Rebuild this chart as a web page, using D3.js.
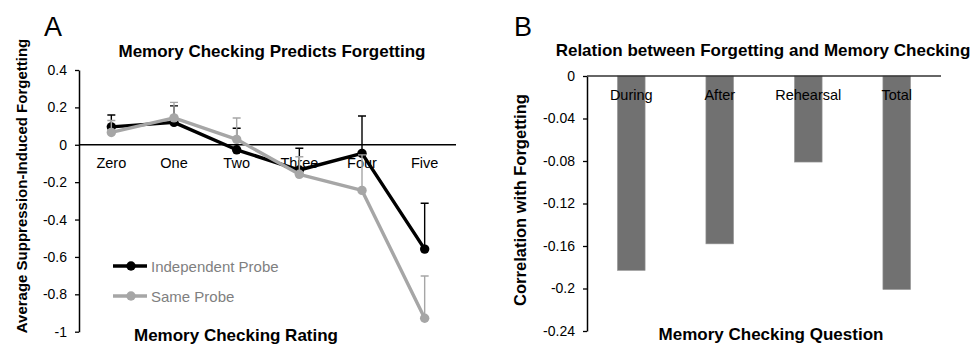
<!DOCTYPE html>
<html>
<head>
<meta charset="utf-8">
<script src="https://cdn.jsdelivr.net/npm/d3@7"></script>
<style>
  body { margin: 0; background: #fff; }
  text { font-family: 'Liberation Sans', Arial, sans-serif; }
</style>
</head>
<body>
<div id="chart"></div>
<script>
// panel A
const ratings = ['Zero', 'One', 'Two', 'Three', 'Four', 'Five'];
const independentProbe = [0.096, 0.12, -0.027, -0.135, -0.046, -0.558];
const independentErr = [0.063, 0.088, 0.115, 0.116, 0.2, 0.245];
const sameProbe = [0.066, 0.144, 0.029, -0.158, -0.244, -0.928];
const sameErr = [0.064, 0.083, 0.114, 0.094, 0.19, 0.226];
const ticksA = [0.4, 0.2, 0, -0.2, -0.4, -0.6, -0.8, -1];

// panel B
const questions = ['During', 'After', 'Rehearsal', 'Total'];
const correlations = [-0.183, -0.158, -0.081, -0.201];
const ticksB = [0, -0.04, -0.08, -0.12, -0.16, -0.2, -0.24];

const width = 977, height = 345;
const fmt = d => String(d).replace('\u2212', '-');

const svg = d3.select('#chart').append('svg')
  .attr('width', width)
  .attr('height', height);

// ---------- A ----------
const xA = d3.scaleBand().domain(ratings).range([80, 456]).padding(0);
const yA = d3.scaleLinear().domain([-1, 0.4]).range([331.7, 70]);
const cx = d => xA(d) + xA.bandwidth() / 2;

svg.append('text').attr('x', 44).attr('y', 36).attr('font-size', 27).text('A');
svg.append('text').attr('x', 272).attr('y', 57).attr('text-anchor', 'middle')
  .attr('font-size', 17).attr('font-weight', 'bold').text('Memory Checking Predicts Forgetting');

const axA = svg.append('g')
  .attr('transform', 'translate(79,0)')
  .call(d3.axisLeft(yA).tickValues(ticksA).tickFormat(fmt).tickSize(4).tickSizeOuter(0).tickPadding(8));
axA.select('.domain').attr('stroke-width', 1.5);
axA.selectAll('.tick line').attr('stroke-width', 1.3);
axA.selectAll('text').attr('font-size', 14).attr('fill', '#000');

const zeroA = svg.append('g')
  .attr('transform', 'translate(0,' + yA(0) + ')')
  .call(d3.axisBottom(xA).tickSize(0).tickPadding(13));
zeroA.select('.domain').attr('d', 'M79,0H456').attr('stroke-width', 1.3);
zeroA.selectAll('text').attr('font-size', 14.5).attr('fill', '#000');

svg.append('text')
  .attr('transform', 'translate(27,186) rotate(-90)')
  .attr('text-anchor', 'middle').attr('font-size', 15).attr('font-weight', 'bold')
  .text('Average Suppression-Induced Forgetting');
svg.append('text').attr('x', 236).attr('y', 341).attr('text-anchor', 'middle')
  .attr('font-size', 17).attr('font-weight', 'bold').text('Memory Checking Rating');

const series = [
  {name: 'Independent Probe', values: independentProbe, err: independentErr, color: '#000', errColor: '#000'},
  {name: 'Same Probe', values: sameProbe, err: sameErr, color: '#a6a6a6', errColor: '#a6a6a6'}
];

const line = d3.line().x((d, i) => cx(ratings[i])).y(d => yA(d));

series.forEach(s => {
  const g = svg.append('g');
  g.selectAll('.err').data(s.values).enter().append('path')
    .attr('d', (d, i) => {
      const x = cx(ratings[i]), y0 = yA(d), y1 = yA(d + s.err[i]);
      return 'M' + x + ',' + y0 + 'V' + y1 + 'M' + (x - 4) + ',' + y1 + 'H' + (x + 4);
    })
    .attr('fill', 'none').attr('stroke', s.errColor).attr('stroke-width', 1.4);
  g.append('path').datum(s.values).attr('d', line)
    .attr('fill', 'none').attr('stroke', s.color).attr('stroke-width', 3.4).attr('stroke-linejoin', 'round');
  g.selectAll('circle').data(s.values).enter().append('circle')
    .attr('cx', (d, i) => cx(ratings[i])).attr('cy', d => yA(d)).attr('r', 4.7).attr('fill', s.color);
});

// legend
const leg = svg.append('g');
series.forEach((s, i) => {
  const y = 266 + i * 30;
  leg.append('line').attr('x1', 113).attr('x2', 147).attr('y1', y).attr('y2', y)
    .attr('stroke', s.color).attr('stroke-width', 3.4);
  leg.append('circle').attr('cx', 131).attr('cy', y).attr('r', 4.7).attr('fill', s.color);
  leg.append('text').attr('x', 151).attr('y', y + 6).attr('font-size', 15)
    .attr('fill', '#7f7f7f').text(s.name);
});

// ---------- B ----------
const xB = d3.scaleBand().domain(questions).range([587, 941]).padding(0);
const yB = d3.scaleLinear().domain([-0.24, 0]).range([331, 76]);
const barW = xB.bandwidth() * 0.313;

svg.append('text').attr('x', 514).attr('y', 36).attr('font-size', 27).text('B');
svg.append('text').attr('x', 763).attr('y', 56).attr('text-anchor', 'middle')
  .attr('font-size', 17).attr('font-weight', 'bold').text('Relation between Forgetting and Memory Checking');

svg.selectAll('.bar').data(correlations).enter().append('rect')
  .attr('class', 'bar')
  .attr('x', (d, i) => xB(questions[i]) + xB.bandwidth() / 2 - barW / 2)
  .attr('y', yB(0))
  .attr('width', barW)
  .attr('height', d => yB(d) - yB(0))
  .attr('fill', '#717171').attr('stroke', '#9a9a9a').attr('stroke-width', 0.6);

const axB = svg.append('g')
  .attr('transform', 'translate(587,0)')
  .call(d3.axisLeft(yB).tickValues(ticksB).tickFormat(fmt).tickSize(4).tickSizeOuter(0).tickPadding(8));
axB.select('.domain').attr('stroke-width', 1.5);
axB.selectAll('.tick line').attr('stroke-width', 1.3);
axB.selectAll('text').attr('font-size', 14).attr('fill', '#000');

const zeroB = svg.append('g')
  .attr('transform', 'translate(0,' + yB(0) + ')')
  .call(d3.axisBottom(xB).tickSize(0).tickPadding(14));
zeroB.select('.domain').attr('d', 'M587,0H941').attr('stroke', '#333').attr('stroke-width', 1.5);
zeroB.selectAll('text').attr('font-size', 14.5).attr('fill', '#000');

svg.append('text')
  .attr('transform', 'translate(526,200) rotate(-90)')
  .attr('text-anchor', 'middle').attr('font-size', 16.5).attr('font-weight', 'bold')
  .text('Correlation with Forgetting');
svg.append('text').attr('x', 771).attr('y', 340).attr('text-anchor', 'middle')
  .attr('font-size', 17).attr('font-weight', 'bold').text('Memory Checking Question');
</script>
</body>
</html>
